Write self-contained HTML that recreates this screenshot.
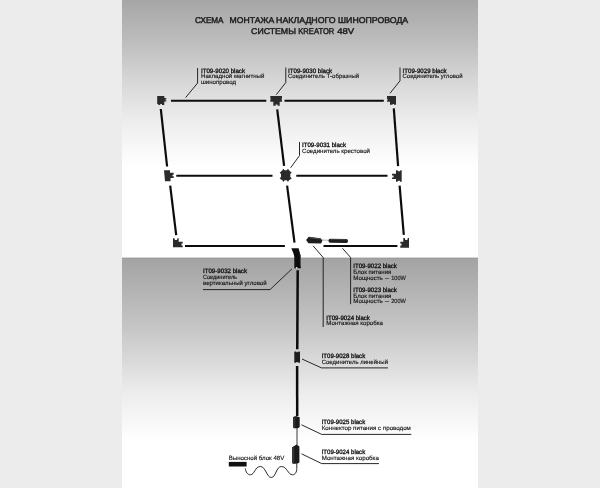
<!DOCTYPE html>
<html lang="ru">
<head>
<meta charset="utf-8">
<title>Схема монтажа накладного шинопровода системы KREATOR 48V</title>
<style>
html,body{margin:0;padding:0;background:#ececec;}
body{width:600px;height:488px;overflow:hidden;position:relative;font-family:"Liberation Sans",sans-serif;}
svg{position:absolute;left:0;top:0;display:block;filter:grayscale(1);}
text{font-family:"Liberation Sans",sans-serif;fill:#222;text-rendering:geometricPrecision;}

.l{font-size:6.1px;}
.l text{stroke:#161616;fill:#161616;stroke-width:0.14;}
.l text.b{font-weight:normal;stroke:#141414;fill:#141414;stroke-width:0.32;font-size:6.3px;}
.t{font-size:8.4px;fill:#1e1e1e;stroke:#1e1e1e;stroke-width:0.45;}
.ld{stroke:#1c1c1c;stroke-width:0.95;fill:none;}
.bar{stroke:#0c0c0c;stroke-width:2;fill:none;}
.cn{fill:#2b2b2b;}
</style>
</head>
<body>
<svg width="600" height="488" viewBox="0 0 600 488">
<defs>
<linearGradient id="g1" gradientUnits="userSpaceOnUse" x1="0" y1="0" x2="0" y2="258">
<stop offset="0" stop-color="#a6a6a6"/>
<stop offset="0.155" stop-color="#bcbcbc"/>
<stop offset="0.31" stop-color="#d6d6d6"/>
<stop offset="0.4612" stop-color="#ececec"/>
<stop offset="0.6473" stop-color="#ffffff"/>
<stop offset="1" stop-color="#ffffff"/>
</linearGradient>
<linearGradient id="g2" gradientUnits="userSpaceOnUse" x1="0" y1="258" x2="0" y2="488">
<stop offset="0" stop-color="#a3a3a3"/>
<stop offset="0.313" stop-color="#c7c7c7"/>
<stop offset="0.5826" stop-color="#ececec"/>
<stop offset="0.8" stop-color="#ffffff"/>
<stop offset="1" stop-color="#ffffff"/>
</linearGradient>
</defs>
<rect x="0" y="0" width="600" height="488" fill="#ececec"/>
<rect x="122" y="0" width="356" height="258" fill="url(#g1)"/>
<rect x="122" y="258" width="356" height="230" fill="url(#g2)"/>
<rect x="122" y="257.6" width="356" height="1.2" fill="#9a9a9a"/>

<!-- title -->
<text class="t" y="23"><tspan x="195.1" textLength="28.4" lengthAdjust="spacingAndGlyphs">СХЕМА</tspan> <tspan x="229.6" textLength="44.6" lengthAdjust="spacingAndGlyphs">МОНТАЖА</tspan> <tspan x="276.100" textLength="59.600" lengthAdjust="spacingAndGlyphs">НАКЛАДНОГО</tspan> <tspan x="338.100" textLength="70.100" lengthAdjust="spacingAndGlyphs">ШИНОПРОВОДА</tspan></text>
<text class="t" y="34.300"><tspan x="251.1" textLength="44.8" lengthAdjust="spacingAndGlyphs">СИСТЕМЫ</tspan> <tspan x="298.200" textLength="36.200" lengthAdjust="spacingAndGlyphs">KREATOR</tspan> <tspan x="337.200" textLength="17" lengthAdjust="spacingAndGlyphs">48V</tspan></text>

<!-- track bars -->
<g class="bar">
<line x1="171" y1="100.8" x2="266.3" y2="100.8"/>
<line x1="284.5" y1="100.8" x2="383.8" y2="100.8"/>
<line x1="176.3" y1="175.8" x2="272.5" y2="175.8"/>
<line x1="296.3" y1="175.8" x2="387.5" y2="175.8"/>
<line x1="185" y1="245.9" x2="284.9" y2="245.9"/>
<line x1="323.5" y1="245.9" x2="397.4" y2="245.9"/>
<g stroke-width="2.2">
<line x1="160.8" y1="109" x2="167.1" y2="166.5"/>
<line x1="170.2" y1="185.6" x2="176.2" y2="235.2"/>
<line x1="277.2" y1="109.3" x2="284.1" y2="165.8"/>
<line x1="287.1" y1="185.6" x2="294.5" y2="242.7"/>
<line x1="393.8" y1="108.4" x2="398.1" y2="166.2"/>
<line x1="399.6" y1="185.6" x2="403.8" y2="234.8"/>
</g>
<line x1="297.7" y1="270.3" x2="297.25" y2="349.3" stroke-width="2.5"/>
<line x1="297.1" y1="366" x2="297.2" y2="416" stroke-width="2.5"/>
</g>

<!-- connectors -->
<g class="cn">
<!-- top-left corner -->
<path d="M157.200 96H164.300V98H166.300V99.200H165.400V100.200H166.300V101.500H164.300V105H162V104H160.200V105H158.300V104H157.200Z"/>
<!-- T -->
<path d="M270.300 96H282V98.600h-0.500v0.800h0.500V101.700H279.700V105.700H277.600V104.400H275.600V105.700H273.300V101.700H270.300V99.400h0.500v-0.800h-0.500Z"/>
<!-- top-right corner -->
<path d="M387 96H396V104.700H394V104H392.600V104.700H390V101.700H387V100.400h0.700v-1.200h-0.700Z"/>
<!-- mid-left -->
<path d="M164 170.300H170V172.700H173.700V174.700H172.500V176.300H173.700V178H170.500V181.300H165Z"/>
<!-- cross -->
<path d="M281 171.500L282.400 170.300L283.200 168.700L284.600 170.300L286.800 170.300L288 168.700L289 170.300L290.300 171.500L291.700 172.500L290.300 174L290.300 177L291.700 178.300L290.300 179.500L289 180.300L288 182L286.800 180.300L284.600 180.300L283.400 182L282.400 180.300L281 179.500L279.700 178.300L281 177L281 174L279.700 172.700Z"/>
<!-- mid-right -->
<path d="M396 170.300L397.500 170.300L398 171.300L400 171.300L400.400 170.300H401.700V181.700H400.200L399.800 180.700H398L397.500 181.700H396V179H392V177.500H393.500V175.500H392V173.700H396Z"/>
<!-- bottom-left -->
<path d="M173 238.300L174.300 238.300L175 240H177L177.500 238.300H178.700V241.700H182.700V243.500H181.500V245.500H182.700V247.300H173Z"/>
<!-- bottom-right -->
<path d="M403.300 238H404.800L405.300 240H407.300L407.800 238H409V247.700H400.300V245.500H401.500V243.500H400.300V241.700H403.300Z"/>
</g>

<!-- power supply -->
<line x1="321.500" y1="240" x2="329.500" y2="240.300" stroke="#a8a8a8" stroke-width="0.900"/>
<path d="M306.100 239.900L308.700 236.700L320.600 238.200L322.400 240.500L321.100 243.400L308.400 243.300Z" fill="#1e1e1e"/>
<path d="M309 237.200L320.400 238.600L321.200 239.600L309.600 238.300Z" fill="#505050"/>
<rect x="328.500" y="238.900" width="19.500" height="3.900" rx="1.700" fill="#1e1e1e" transform="rotate(1.2 338 241)"/>
<rect x="330" y="239.200" width="16.500" height="0.800" rx="0.400" fill="#454545" transform="rotate(1.2 338 241)"/>

<!-- vertical angle connector -->
<path d="M291.4 248.2H298.6C299.4 251.6 300.9 254.800 300.9 258V268.200H294.3V257.500C294.3 254.500 292.4 251.200 291.4 248.200Z" fill="#0d0d0d"/>
<path d="M299.500 252.500C300.200 254.500 300.900 256.200 300.900 258V266.500H300V258C300 256 299.800 254.500 299.500 252.500Z" fill="#5a5a5a"/>
<circle cx="296.700" cy="267.800" r="0.900" fill="#e6e6e6"/>

<!-- linear connector -->
<rect x="294.300" y="351.600" width="5.700" height="11.200" rx="0.600" fill="#1d1d1d"/>
<rect x="296" y="351.300" width="2.400" height="0.800" fill="#d8d8d8"/>
<rect x="296" y="362.300" width="2.400" height="0.800" fill="#e0e0e0"/>
<!-- power connector -->
<path d="M293 417.300L296 415.900L299.700 417.200V427L298 428.200H294.500L293 427.300Z" fill="#1b1b1b"/>
<path d="M293 417.300L295.300 416.300V428.200H294.500L293 427.300Z" fill="#333"/>
<line x1="297" y1="428" x2="297" y2="445" stroke="#3a3a3a" stroke-width="1"/>
<!-- mounting box -->
<path d="M292 447.500L296.500 444.600L299.400 446.500V462.500L297 463.700H293L292 462.500Z" fill="#1b1b1b"/>
<path d="M292 447.500L294.300 446V463.700H293L292 462.500Z" fill="#353535"/>
<!-- wire -->
<path d="M296.800 463.500v5c0 3.400-1.600 6.300-4.300 6.300c-4.500 0-5.500-8.300-11-8.300s-5.500 11-10.200 11s-5.500-11-11-11s-5.500 8.300-10 8.300c-3 0-4.500-3-5-6.400" fill="none" stroke="#2a2a2a" stroke-width="1"/>
<rect x="228.800" y="461.900" width="17.800" height="4.600" fill="#111"/>

<!-- leader lines -->
<g class="ld">
<polyline points="197.600,68 197.600,83 185.600,97.600"/>
<polyline points="285.800,67.500 285.800,82.500 276.300,94.700"/>
<polyline points="400,67.500 400,80.800 390,93.300"/>
<polyline points="299.500,142 299.500,155.600 290.600,167.800"/>
<polyline points="313,245.800 323.200,257.500 323.200,327"/>
<polyline points="342.500,248.300 350.600,257.500 350.600,304.200"/>
<polyline points="203,289.600 270,289.600 292,268.800"/>
<polyline points="302,359 321.500,367.900 388,367.900"/>
<polyline points="301.500,424.800 321.700,434.400 411.300,434.400"/>
<polyline points="301.500,453.800 321.700,463.600 379,463.600"/>
</g>

<!-- labels -->
<g class="l">
<text class="b" x="201" y="72.700" textLength="44" lengthAdjust="spacingAndGlyphs">IT09-9020 black</text>
<text x="201" y="78.100" textLength="63.400" lengthAdjust="spacingAndGlyphs">Накладной магнитный</text>
<text x="201" y="83.500" textLength="35" lengthAdjust="spacingAndGlyphs">шинопровод</text>

<text class="b" x="288" y="72.500" textLength="44.200" lengthAdjust="spacingAndGlyphs">IT09-9030 black</text>
<text x="288" y="78.300" textLength="71.200" lengthAdjust="spacingAndGlyphs">Соединитель Т-образный</text>

<text class="b" x="402.500" y="72.500" textLength="44.200" lengthAdjust="spacingAndGlyphs">IT09-9029 black</text>
<text x="402.500" y="78.300" textLength="60" lengthAdjust="spacingAndGlyphs">Соединитель угловой</text>

<text class="b" x="302" y="147.300" textLength="44" lengthAdjust="spacingAndGlyphs">IT09-9031 black</text>
<text x="302" y="152.700" textLength="68" lengthAdjust="spacingAndGlyphs">Соединитель крестовой</text>

<text class="b" x="203" y="273.200" textLength="44" lengthAdjust="spacingAndGlyphs">IT09-9032 black</text>
<text x="203" y="279" textLength="34" lengthAdjust="spacingAndGlyphs">Соединитель</text>
<text x="203" y="285.300" textLength="63.600" lengthAdjust="spacingAndGlyphs">вертикальный угловой</text>

<text class="b" x="353.300" y="268" textLength="43.600" lengthAdjust="spacingAndGlyphs">IT09-9022 black</text>
<text x="353.300" y="273.700" textLength="38" lengthAdjust="spacingAndGlyphs">Блок питания</text>
<text y="279.500"><tspan x="353.300" textLength="29.500" lengthAdjust="spacingAndGlyphs">Мощность</tspan> <tspan x="385.100" textLength="4" lengthAdjust="spacingAndGlyphs">–</tspan> <tspan x="391.200" textLength="14.600" lengthAdjust="spacingAndGlyphs">100W</tspan></text>
<text class="b" x="353.300" y="292" textLength="43.600" lengthAdjust="spacingAndGlyphs">IT09-9023 black</text>
<text x="353.300" y="297.500" textLength="38" lengthAdjust="spacingAndGlyphs">Блок питания</text>
<text y="303.300"><tspan x="353.300" textLength="29.500" lengthAdjust="spacingAndGlyphs">Мощность</tspan> <tspan x="385.100" textLength="4" lengthAdjust="spacingAndGlyphs">–</tspan> <tspan x="391.200" textLength="14.600" lengthAdjust="spacingAndGlyphs">200W</tspan></text>

<text class="b" x="326.300" y="319.800" textLength="43.600" lengthAdjust="spacingAndGlyphs">IT09-9024 black</text>
<text x="326.300" y="325.400" textLength="56.700" lengthAdjust="spacingAndGlyphs">Монтажная коробка</text>

<text class="b" x="321.700" y="357.800" textLength="43.500" lengthAdjust="spacingAndGlyphs">IT09-9028 black</text>
<text x="321.700" y="363.700" textLength="66.300" lengthAdjust="spacingAndGlyphs">Соединитель линейный</text>

<text class="b" x="321.700" y="424" textLength="43.500" lengthAdjust="spacingAndGlyphs">IT09-9025 black</text>
<text x="321.700" y="430" textLength="89.200" lengthAdjust="spacingAndGlyphs">Коннектор питания с проводом</text>

<text class="b" x="321.700" y="453.800" textLength="43.500" lengthAdjust="spacingAndGlyphs">IT09-9024 black</text>
<text x="321.700" y="459.600" textLength="57.200" lengthAdjust="spacingAndGlyphs">Монтажная коробка</text>

<text x="228.800" y="460" textLength="55.400" lengthAdjust="spacingAndGlyphs">Выносной блок 48V</text>
</g>
</svg>
</body>
</html>
